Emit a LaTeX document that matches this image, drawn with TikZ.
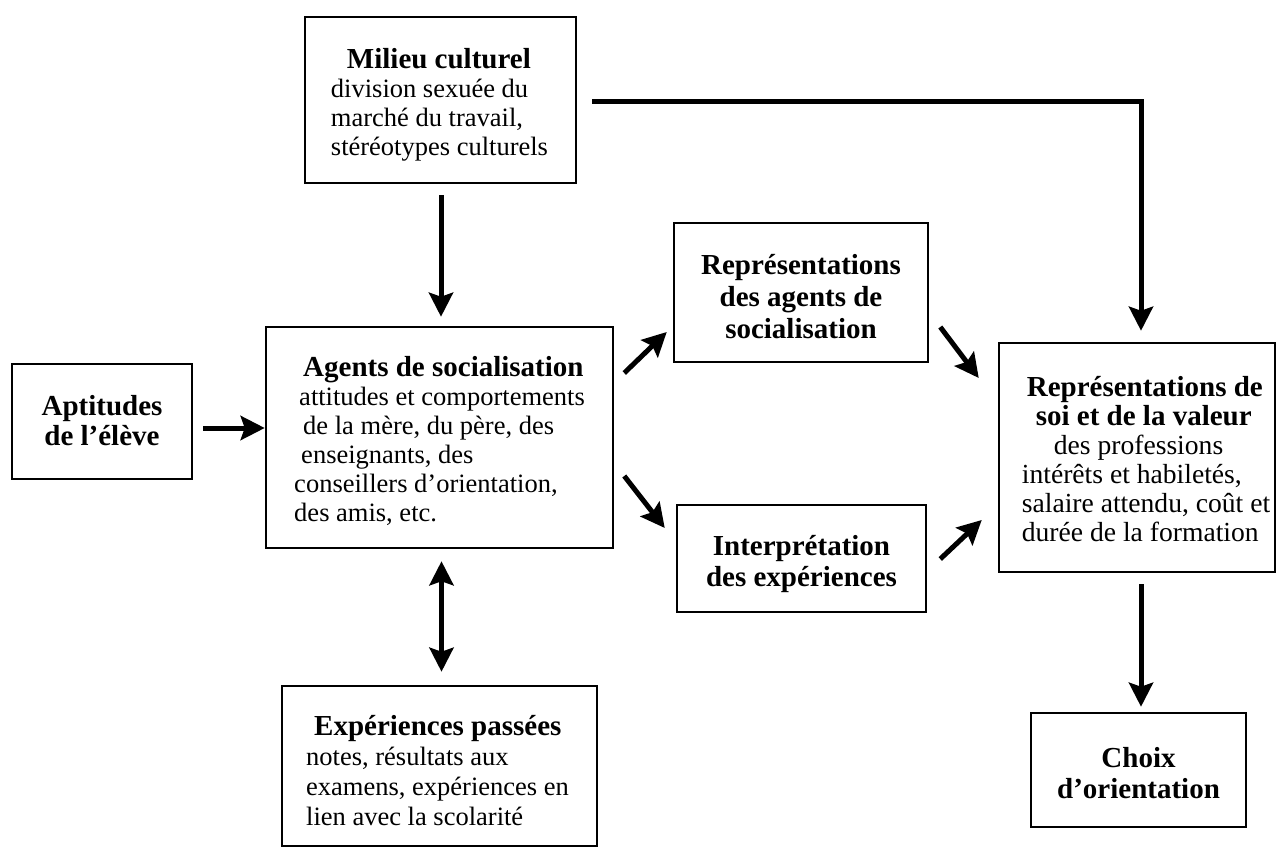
\documentclass[tikz,border=0pt]{standalone}
\usepackage{fontspec}
\setmainfont{Liberation Serif}
\usetikzlibrary{arrows.meta,calc}
\newcommand{\bhead}[1]{\smash{\fontsize{29}{29}\selectfont\bfseries #1}}
\newcommand{\btext}[4]{\raisebox{-#2}[\height][\depth]{\hspace*{#1}\begin{tabular}{@{}#3@{}}#4\end{tabular}\hspace*{-#1}}}
\begin{document}
\begin{tikzpicture}[x=1pt,y=-1pt,
  box/.style={draw,line width=2.5pt,inner sep=0pt,font=\fontsize{26.5}{29}\selectfont},
  arr/.style={line width=5pt,-{Stealth[length=24pt,width=24pt,inset=4pt]}},
  darr/.style={line width=5pt,{Stealth[length=24pt,width=24pt,inset=4pt]}-{Stealth[length=24pt,width=24pt,inset=4pt]}}]
\fill[white] (0,0) rectangle (1277,848);
\useasboundingbox (0,0) rectangle (1277,848);

\node[box,minimum width=271pt,minimum height=166pt] (milieu) at (440.5,100)
  {\btext{-1pt}{6pt}{l}{\hspace*{16pt}\bhead{Milieu culturel}\\division sexuée du\\marché du travail,\\stéréotypes culturels}};
\node[box,minimum width=180pt,minimum height=115pt] (apt) at (102,421.5)
  {\btext{0pt}{3pt}{c}{\bhead{Aptitudes}\\[1pt]\bhead{de l’élève}}};
\node[box,minimum width=347pt,minimum height=221pt] (agents) at (439.5,437.5)
  {\btext{0pt}{6pt}{l}{\hspace*{9pt}\bhead{Agents de socialisation}\\\hspace*{5pt}attitudes et comportements\\\hspace*{9pt}de la mère, du père, des\\\hspace*{7pt}enseignants, des\\conseillers d’orientation,\\des amis, etc.}};
\node[box,minimum width=254pt,minimum height=139pt] (rep) at (801,292.5)
  {\btext{0pt}{8pt}{c}{\bhead{Représentations}\\[3pt]\bhead{des agents de}\\[3pt]\bhead{socialisation}}};
\node[box,minimum width=249pt,minimum height=107pt] (interp) at (801.5,558.5)
  {\btext{0pt}{7pt}{c}{\bhead{Interprétation}\\[2pt]\bhead{des expériences}}};
\node[box,minimum width=276pt,minimum height=229pt,font=\fontsize{27.6}{29}\selectfont] (soi) at (1137,457.5)
  {\btext{9pt}{6pt}{l}{\hspace*{5pt}\bhead{Représentations de}\\\hspace*{14pt}\bhead{soi et de la valeur}\\\hspace*{32pt}des professions\\intérêts et habiletés,\\salaire attendu, coût et\\durée de la formation}};
\node[box,minimum width=315pt,minimum height=160pt] (exp) at (439.5,766)
  {\btext{-2pt}{9pt}{l}{\hspace*{8pt}\bhead{Expériences passées}\\[1pt]notes, résultats aux\\[1pt]examens, expériences en\\[1pt]lien avec la scolarité}};
\node[box,minimum width=215pt,minimum height=114pt] (choix) at (1138.5,770)
  {\btext{0pt}{7pt}{c}{\bhead{Choix}\\[2pt]\bhead{d’orientation}}};

\draw[arr] ($(milieu.south)+(0.5,11)$) -- ($(milieu.south |- agents.north)+(0.5,-9)$);
\draw[arr] ($(milieu.east)+(15,2)$) -| ($(soi.north)+(4,-11)$);
\draw[arr] ($(apt.east)+(10,6.5)$) -- ($(apt.east -| agents.west)+(0,6.5)$);
\draw[darr] ($(agents.south)+(2,12)$) -- ($(agents.south |- exp.north)+(2,-13)$);
\draw[arr] ($(agents.east)+(10,-64.5)$) -- ($(rep.west)+(-6,39.5)$);
\draw[arr] ($(rep.east)+(11,34.5)$) -- ($(soi.west)+(-19,-79.5)$);
\draw[arr] ($(agents.east)+(10,38.5)$) -- ($(interp.west)+(-11,-30.5)$);
\draw[arr] ($(interp.east)+(13,0.5)$) -- ($(soi.west)+(-16,62.5)$);
\draw[arr] ($(soi.south)+(4,11)$) -- ($(soi.south |- choix.north)+(4,-5)$);
\end{tikzpicture}
\end{document}
